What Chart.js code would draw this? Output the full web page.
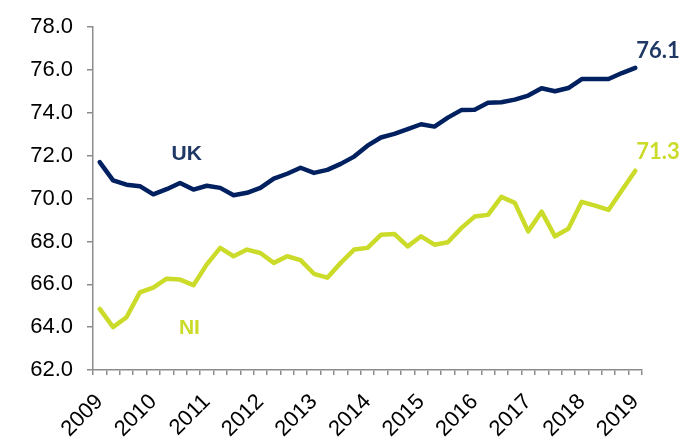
<!DOCTYPE html>
<html lang="en">
<head>
    <meta charset="UTF-8">
    <title>Employment rate UK vs NI</title>
    <script src="https://cdn.jsdelivr.net/npm/chart.js"></script>
    <style>
        body { margin: 0; background: #fff; }
        #wrap { width: 684px; height: 444px; }
    </style>
</head>
<body>
    <div id="wrap"><canvas id="chart"></canvas></div>

    <script>
        // Quarterly series, 2009 Q1 to 2019 Q1
        const years = [2009, 2010, 2011, 2012, 2013, 2014, 2015, 2016, 2017, 2018, 2019];
        const ukValues = [
            71.7, 70.85, 70.65, 70.58, 70.2, 70.44, 70.73, 70.42, 70.6, 70.5,
            70.16, 70.27, 70.5, 70.93, 71.16, 71.44, 71.2, 71.34, 71.62, 71.96,
            72.47, 72.85, 73.02, 73.24, 73.47, 73.36, 73.78, 74.13, 74.15, 74.47,
            74.5, 74.62, 74.81, 75.15, 75.01, 75.16, 75.58, 75.58, 75.58, 75.86,
            76.1
        ];
        const niValues = [
            64.85, 64.0, 64.46, 65.62, 65.85, 66.26, 66.22, 65.96, 66.93, 67.7,
            67.31, 67.62, 67.46, 67.0, 67.31, 67.13, 66.49, 66.31, 67.0, 67.62,
            67.7, 68.31, 68.35, 67.77, 68.24, 67.85, 67.96, 68.62, 69.16, 69.24,
            70.08, 69.8, 68.47, 69.39, 68.24, 68.59, 69.85, 69.67, 69.47, 70.39,
            71.3
        ];

        const ukColor = '#002060';
        const ukText = '#1f3864';
        const niColor = '#cbdb2a';

        // one label per quarter, year shown on Q1 only
        const labels = [];
        years.forEach((y, i) => {
            const quarters = i === years.length - 1 ? 1 : 4;
            for (let q = 1; q <= quarters; q++) labels.push(y + ' Q' + q);
        });

        const seriesLabels = {
            id: 'seriesLabels',
            afterDatasetsDraw(chart) {
                const ctx = chart.ctx;
                const xs = chart.scales.x;
                const ys = chart.scales.y;
                const last = labels.length - 1;
                ctx.save();

                // names next to the lines
                ctx.font = 'bold 21px "Liberation Sans", Arial, sans-serif';
                ctx.textAlign = 'center';
                ctx.textBaseline = 'middle';
                ctx.fillStyle = ukText;
                ctx.fillText('UK', xs.getPixelForValue(6.5), ys.getPixelForValue(72.07));
                ctx.fillStyle = niColor;
                ctx.fillText('NI', xs.getPixelForValue(6.7), ys.getPixelForValue(63.94));

                // latest values
                ctx.font = 'bold 22px Lato, "Open Sans", sans-serif';
                ctx.textAlign = 'left';
                ctx.textBaseline = 'bottom';
                ctx.fillStyle = ukText;
                ctx.fillText(ukValues[last].toFixed(1), xs.getPixelForValue(last) + 1, ys.getPixelForValue(ukValues[last]) - 6);
                ctx.fillStyle = niColor;
                ctx.fillText(niValues[last].toFixed(1), xs.getPixelForValue(last) + 1, ys.getPixelForValue(niValues[last]) - 8);

                ctx.restore();
            }
        };

        const axisGrey = '#8c8c8c';

        new Chart(document.getElementById('chart'), {
            type: 'line',
            data: {
                labels: labels,
                datasets: [
                    {
                        label: 'UK',
                        data: ukValues,
                        borderColor: ukColor,
                        borderWidth: 4.5,
                        pointRadius: 0,
                        tension: 0,
                        borderJoinStyle: 'round',
                        borderCapStyle: 'round'
                    },
                    {
                        label: 'NI',
                        data: niValues,
                        borderColor: niColor,
                        borderWidth: 4.5,
                        pointRadius: 0,
                        tension: 0,
                        borderJoinStyle: 'round',
                        borderCapStyle: 'round'
                    }
                ]
            },
            options: {
                responsive: true,
                maintainAspectRatio: false,
                animation: false,
                layout: { padding: { top: 25, right: 42, left: 0, bottom: 0 } },
                plugins: {
                    legend: { display: false },
                    tooltip: { enabled: false }
                },
                scales: {
                    x: {
                        offset: true,
                        grid: {
                            offset: true,
                            drawOnChartArea: false,
                            drawTicks: true,
                            tickLength: 5,
                            color: axisGrey,
                            lineWidth: 1.5
                        },
                        border: { color: axisGrey, width: 1.5 },
                        ticks: {
                            autoSkip: false,
                            maxRotation: 45,
                            minRotation: 45,
                            padding: 14,
                            color: '#000',
                            font: { family: '"Liberation Sans", Arial, sans-serif', size: 22 },
                            callback: (v, i) => (i % 4 === 0 ? labels[i].slice(0, 4) : '')
                        },
                        afterFit: (s) => { s.height = 74; }
                    },
                    y: {
                        min: 62,
                        max: 78,
                        grid: {
                            drawOnChartArea: false,
                            drawTicks: true,
                            tickLength: 6,
                            color: axisGrey,
                            lineWidth: 1.5
                        },
                        border: { color: axisGrey, width: 1.5 },
                        ticks: {
                            stepSize: 2,
                            padding: 14,
                            color: '#000',
                            font: { family: '"Liberation Sans", Arial, sans-serif', size: 22 },
                            callback: (v) => v.toFixed(1)
                        },
                        afterFit: (s) => { s.width = 93; }
                    }
                }
            },
            plugins: [seriesLabels]
        });
    </script>
</body>
</html>
